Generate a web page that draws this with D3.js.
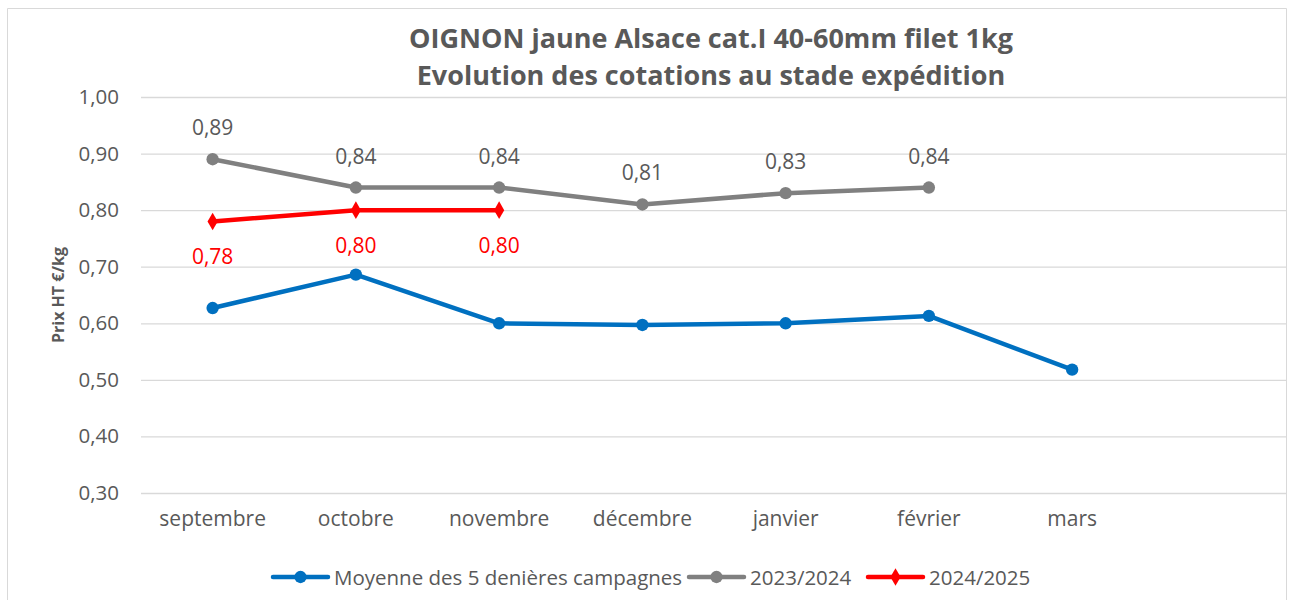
<!DOCTYPE html>
<html>
<head>
<meta charset="utf-8">
<script src="https://cdn.jsdelivr.net/npm/d3@7"></script>
<style>
  body { margin: 0; background: #fff; overflow: hidden; }
  svg { display: block; }
  text { font-family: "Open Sans", sans-serif; fill: #595959; }
</style>
</head>
<body>
<svg width="1293" height="600"></svg>
<script>
const months = ["septembre", "octobre", "novembre", "décembre", "janvier", "février", "mars", ""]
const moyenne = [0.627, 0.686, 0.600, 0.597, 0.600, 0.613, 0.518]
const campagne2324 = [0.89, 0.84, 0.84, 0.81, 0.83, 0.84]
const campagne2425 = [0.78, 0.80, 0.80]
const yTicks = [0.3, 0.4, 0.5, 0.6, 0.7, 0.8, 0.9, 1.0]
const titleLines = ["OIGNON jaune Alsace cat.I 40-60mm filet 1kg", "Evolution des cotations au stade expédition"]
const seriesNames = ["Moyenne des 5 denières campagnes", "2023/2024", "2024/2025"]

const svg = d3.select("svg")
const width = +svg.attr("width")
const height = +svg.attr("height")
const margin = { top: 97, right: 6, bottom: 107, left: 141 }
const innerWidth = width - margin.left - margin.right
const innerHeight = height - margin.top - margin.bottom
const fmt = (d) => d3.format(".2f")(d).replace(".", ",")

// chart frame (bottom edge is outside the picture)
svg.append("path")
  .attr("d", "M7.5,600V8.5H1286.5V600")
  .attr("fill", "none").attr("stroke", "#d9d9d9")

const xScale = d3.scaleBand().domain(months).range([0, innerWidth])
const xPos = (i) => xScale(months[i]) + xScale.bandwidth() / 2
const yScale = d3.scaleLinear().domain([0.3, 1.0]).range([innerHeight, 0])

const g = svg.append("g").attr("transform", `translate(${margin.left},${margin.top})`)

const yAxis = d3.axisLeft(yScale).tickValues(yTicks).tickSize(-innerWidth).tickPadding(22).tickFormat(fmt)
const yAxisG = g.append("g").call(yAxis)
yAxisG.select(".domain").remove()
yAxisG.selectAll("line").attr("stroke", "#d9d9d9").attr("stroke-width", 1.3)
yAxisG.selectAll("text").style("font-size", "20.5px").attr("fill", "#595959")

const xAxis = d3.axisBottom(xScale).tickSize(0).tickPadding(18)
const xAxisG = g.append("g").attr("transform", `translate(0,${innerHeight})`).call(xAxis)
xAxisG.select(".domain").remove()
xAxisG.selectAll("text").style("font-size", "21px").attr("fill", "#595959")

//y label
svg.append("text")
  .attr("transform", `translate(64,${margin.top + innerHeight / 2}) rotate(-90)`)
  .attr("text-anchor", "middle")
  .style("font-size", "16px").style("font-weight", "bold")
  .text("Prix HT €/kg")

//Title
svg.selectAll(".chart-title").data(titleLines).join("text")
  .attr("class", "chart-title")
  .attr("x", 711).attr("y", (d, i) => 48 + i * 37)
  .attr("text-anchor", "middle")
  .style("font-size", "27px").style("font-weight", "bold")
  .text((d) => d)

const line = d3.line().x((d, i) => xPos(i)).y((d) => yScale(d))
const series = [
  { name: seriesNames[0], values: moyenne, color: "#0070C0", marker: "circle" },
  { name: seriesNames[1], values: campagne2324, color: "#808080", marker: "circle" },
  { name: seriesNames[2], values: campagne2425, color: "#FF0000", marker: "diamond" }
]
const symbolFor = (m) => m === "circle" ? d3.symbol(d3.symbolCircle, 120) : d3.symbol(d3.symbolDiamond, 90)

series.forEach((s) => {
  g.append("path").datum(s.values)
    .attr("fill", "none").attr("stroke", s.color).attr("stroke-width", 4.5)
    .attr("stroke-linejoin", "round")
    .attr("d", line)
  g.selectAll(null).data(s.values).join("path")
    .attr("transform", (d, i) => `translate(${xPos(i)},${yScale(d)})`)
    .attr("d", symbolFor(s.marker))
    .attr("fill", s.color)
})

// data labels
g.selectAll(".lbl-gray").data(campagne2324).join("text")
  .attr("x", (d, i) => xPos(i)).attr("y", (d) => yScale(d) - 24)
  .attr("text-anchor", "middle").style("font-size", "21px").attr("fill", "#404040")
  .text(fmt)
g.selectAll(".lbl-red").data(campagne2425).join("text")
  .attr("x", (d, i) => xPos(i)).attr("y", (d) => yScale(d) + 43)
  .attr("text-anchor", "middle").style("font-size", "21px").style("fill", "#FF0000")
  .text(fmt)

// legend
const legendX = [273, 689, 868]
const legend = svg.selectAll(".legend").data(series).join("g")
  .attr("transform", (d, i) => `translate(${legendX[i]},577)`)
legend.append("line").attr("x1", 0).attr("x2", 55)
  .attr("stroke", (d) => d.color).attr("stroke-width", 4.5).attr("stroke-linecap", "round")
legend.append("path").attr("transform", "translate(27.5,0)")
  .attr("d", (d) => symbolFor(d.marker)()).attr("fill", (d) => d.color)
legend.append("text").attr("x", 61).attr("y", 7.5)
  .style("font-size", "20.5px").text((d) => d.name)
</script>
</body>
</html>
